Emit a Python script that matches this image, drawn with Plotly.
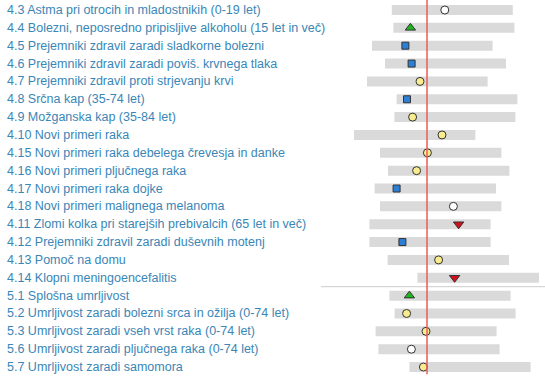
import plotly.graph_objects as go

categories = [
    "4.3 Astma pri otrocih in mladostnikih (0-19 let)",
    "4.4 Bolezni, neposredno pripisljive alkoholu (15 let in več)",
    "4.5 Prejemniki zdravil zaradi sladkorne bolezni",
    "4.6 Prejemniki zdravil zaradi poviš. krvnega tlaka",
    "4.7 Prejemniki zdravil proti strjevanju krvi",
    "4.8 Srčna kap (35-74 let)",
    "4.9 Možganska kap (35-84 let)",
    "4.10 Novi primeri raka",
    "4.15 Novi primeri raka debelega črevesja in danke",
    "4.16 Novi primeri pljučnega raka",
    "4.17 Novi primeri raka dojke",
    "4.18 Novi primeri malignega melanoma",
    "4.11 Zlomi kolka pri starejših prebivalcih (65 let in več)",
    "4.12 Prejemniki zdravil zaradi duševnih motenj",
    "4.13 Pomoč na domu",
    "4.14 Klopni meningoencefalitis",
    "5.1 Splošna umrljivost",
    "5.2 Umrljivost zaradi bolezni srca in ožilja (0-74 let)",
    "5.3 Umrljivost zaradi vseh vrst raka (0-74 let)",
    "5.6 Umrljivost zaradi pljučnega raka (0-74 let)",
    "5.7 Umrljivost zaradi samomora",
]

# index values (Slovenia = 100)
range_min = [82.4, 83.2, 72.5, 79.0, 70.0, 84.8, 83.7, 63.5, 76.5, 80.5, 73.8, 76.5, 71.2, 71.2, 80.3, 95.2, 81.2, 83.8, 74.3, 75.7, 91.2]
range_max = [142.9, 143.7, 132.8, 139.5, 130.3, 145.2, 144.2, 124.2, 137.2, 141.2, 134.5, 137.2, 131.8, 131.8, 141.0, 156.0, 141.8, 144.3, 134.8, 136.3, 151.8]
values    = [108.9, 91.7, 89.2, 92.3, 96.5, 90.0, 92.8, 107.5, 100.2, 94.8, 84.8, 113.2, 115.8, 87.7, 105.8, 113.8, 91.2, 89.8, 99.5, 92.2, 98.2]
# status: 0 = neutral (white), 1 = better (green), 2 = blue, 3 = yellow, 4 = worse (red)
status    = [0, 1, 2, 2, 3, 2, 3, 3, 3, 3, 2, 0, 4, 2, 3, 4, 1, 3, 3, 0, 3]

reference_value = 100
section_break_after = "4.14 Klopni meningoencefalitis"

status_style = {
    0: dict(symbol="circle", color="#ffffff", size=8),
    1: dict(symbol="triangle-up", color="#1fb51f", size=9),
    2: dict(symbol="square", color="#2b7fd6", size=7),
    3: dict(symbol="circle", color="#f8ec8e", size=8),
    4: dict(symbol="triangle-down", color="#d0101a", size=9),
}

n = len(categories)
ypos = list(range(n))

fig = go.Figure()

fig.add_trace(go.Bar(
    y=ypos,
    x=[mx - mn for mn, mx in zip(range_min, range_max)],
    base=range_min,
    orientation="h",
    width=0.56,
    marker=dict(color="#dadada", line=dict(width=0)),
    hoverinfo="skip",
    showlegend=False,
))

for s, st in status_style.items():
    idx = [i for i in range(n) if status[i] == s]
    fig.add_trace(go.Scatter(
        x=[values[i] for i in idx],
        y=[ypos[i] for i in idx],
        mode="markers",
        marker=dict(symbol=st["symbol"], color=st["color"], size=st["size"],
                    line=dict(color="#333333", width=1)),
        showlegend=False,
        hovertemplate="%{x}<extra></extra>",
    ))

# category labels
for i, c in enumerate(categories):
    fig.add_annotation(
        x=0.009, xref="paper", xanchor="left",
        y=ypos[i], yref="y", yanchor="middle",
        text=c, showarrow=False,
        font=dict(family="Liberation Sans", size=12.5, color="#3a86b6"),
    )

brk = categories.index(section_break_after) + 0.5
fig.add_shape(type="line", xref="paper", yref="y", x0=0.589, x1=1.0, y0=brk, y1=brk,
              line=dict(color="#cccccc", width=1))
fig.add_shape(type="line", xref="x", yref="y", x0=reference_value, x1=reference_value,
              y0=-0.56, y1=n - 1 + 0.4, line=dict(color="#ee5b55", width=1.5), layer="above")

fig.update_layout(
    width=545, height=379,
    margin=dict(l=0, r=0, t=0, b=0),
    plot_bgcolor="white", paper_bgcolor="white",
    barmode="overlay",
    xaxis=dict(domain=[0.6, 1.0], range=[50, 159], visible=False, fixedrange=True),
    yaxis=dict(range=[n - 1 + 0.67, -0.56], visible=False, fixedrange=True),
)

fig.write_html("out.html", config={"displayModeBar": False},
               post_script="document.body.style.margin='0';document.body.style.overflow='hidden';")
